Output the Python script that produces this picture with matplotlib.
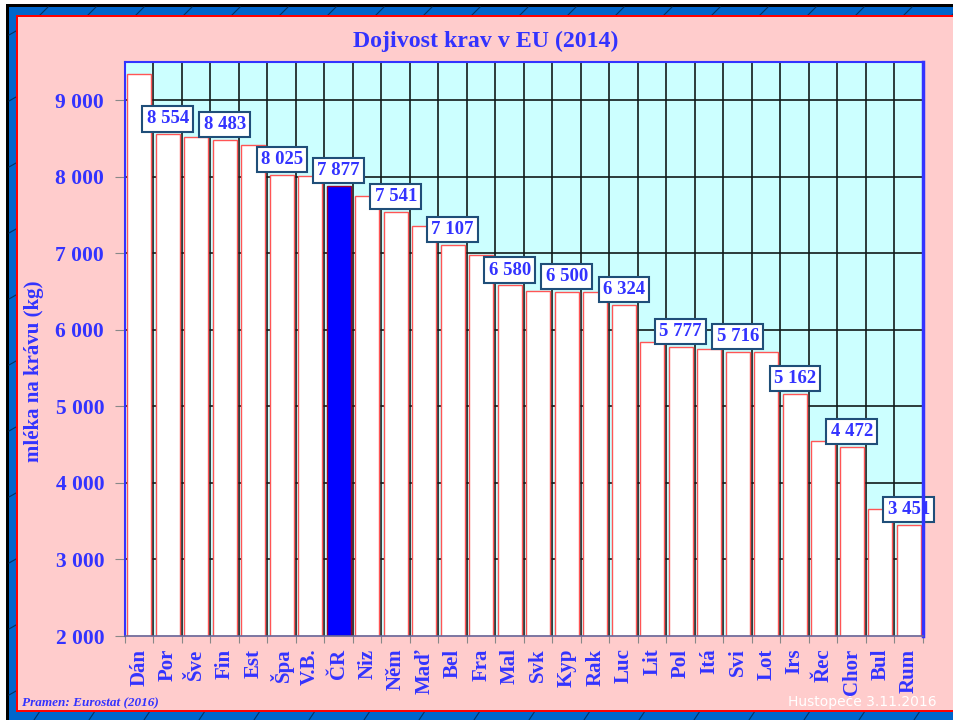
import matplotlib
matplotlib.use("Agg")
import matplotlib.pyplot as plt
from matplotlib.patches import Rectangle
from matplotlib.lines import Line2D
import numpy as np

countries = ["Dán", "Por", "Šve", "Fin", "Est", "Špa", "V.B.", "ČR", "Niz", "Něm",
             "Maď", "Bel", "Fra", "Mal", "Svk", "Kyp", "Rak", "Luc", "Lit", "Pol",
             "Itá", "Svi", "Lot", "Irs", "Řec", "Chor", "Bul", "Rum"]
milk_yield = [9346, 8554, 8519, 8483, 8422, 8025, 8015, 7877, 7752, 7541,
              7359, 7107, 6976, 6580, 6508, 6500, 6495, 6324, 5843, 5777,
              5752, 5716, 5705, 5162, 4545, 4472, 3654, 3451]
highlight = "ČR"
yticks = [2000, 3000, 4000, 5000, 6000, 7000, 8000, 9000]
ytick_labels = ["2 000", "3 000", "4 000", "5 000", "6 000", "7 000", "8 000", "9 000"]

title = "Dojivost krav v EU (2014)"
ylabel = "mléka na krávu (kg)"
source = "Pramen: Eurostat (2016)"
stamp = "Hustopeče 3.11.2016"

BLUE_TXT = "#3333FF"
W, H = 954, 720
fig = plt.figure(figsize=(W / 100, H / 100), dpi=100)
fig.patch.set_facecolor("white")

def frect(x0, y0, x1, y1, color, z=0):
    # pixel coords (top-left origin)
    fig.patches.append(Rectangle((x0 / W, 1 - y1 / H), (x1 - x0) / W, (y1 - y0) / H,
                                 transform=fig.transFigure, facecolor=color,
                                 edgecolor="none", zorder=z))

def fline(x0, y0, x1, y1, color, lw, z=1):
    fig.lines.append(Line2D([x0 / W, x1 / W], [1 - y0 / H, 1 - y1 / H],
                            transform=fig.transFigure, color=color, lw=lw, zorder=z))

# frame
frect(6, 4, W, H, "black", -10)
frect(9, 7, W, H, "#0066CC", -9)
# decorative diagonal lines in the blue band
for xx in range(40, W, 48):
    fline(xx, 15, xx + 8, 7, "#003366", 0.8, -8)
for xx in range(40, W, 55):
    fline(xx, 711, xx - 6, 720, "#003366", 0.8, -8)
for yy in range(35, H, 66):
    fline(9, yy, 16, yy - 4, "#003366", 0.8, -8)
frect(16, 15, W, 712, "red", -7)
frect(18, 17, W, 710, "#FFCCCC", -6)

ax = fig.add_axes([125 / W, 1 - 636 / H, (923 - 125) / W, (636 - 62) / H])
ax.set_zorder(5)
ax.set_facecolor("#CCFFFF")
n = len(countries)
x = np.arange(n)
ax.set_xlim(-0.5, n - 0.5)
ax.set_ylim(2000, 9500)

# grid
for b in np.arange(-0.5, n, 1.0)[1:-1]:
    ax.axvline(b, color="#111a1a", lw=1.2, zorder=1)
for yv in yticks[1:]:
    ax.axhline(yv, color="#111a1a", lw=1.2, zorder=1)

colors = ["#0000FF" if c == highlight else "white" for c in countries]
edges = ["#990033" if c == highlight else "#FF5555" for c in countries]
ax.bar(x, [v - 2000 for v in milk_yield], bottom=2000, width=0.84, color=colors,
       edgecolor=edges, linewidth=1.0, zorder=2)

serif = ["Liberation Serif", "DejaVu Serif"]
for i, (c, v) in enumerate(zip(countries, milk_yield)):
    if i % 2 == 1:
        lbl = f"{v:,}".replace(",", " ")
        ax.annotate(lbl, (i, v), xytext=(0, 5), textcoords="offset points",
                    ha="center", va="bottom", fontsize=13.5, fontweight="bold",
                    family=serif, color=BLUE_TXT, zorder=5,
                    bbox=dict(boxstyle="square,pad=0.22", facecolor="white",
                              edgecolor="#1F4E79", linewidth=1.5))

ax.set_xticks(np.arange(-0.5, n, 1.0))
ax.set_xticklabels([])
ax.set_xticks(x, minor=True)
ax.set_xticklabels(countries, minor=True, rotation=90, fontsize=15,
                   fontweight="bold", family=serif, color=BLUE_TXT)
ax.tick_params(axis="x", which="major", direction="out", length=5, color="#888888")
ax.tick_params(axis="x", which="minor", length=0, pad=9)
ax.set_yticks(yticks)
ax.set_yticklabels(ytick_labels, fontsize=15.5, fontweight="bold", family=serif,
                   color=BLUE_TXT)
ax.tick_params(axis="y", direction="out", length=7, color="#888888", pad=8)

for s in ["left", "top"]:
    ax.spines[s].set_color("#3333FF")
    ax.spines[s].set_linewidth(1.5)
ax.spines["right"].set_color("#3333FF")
ax.spines["right"].set_linewidth(2.5)
ax.spines["bottom"].set_color("#666699")
ax.spines["bottom"].set_linewidth(1.2)
for sp in ax.spines.values():
    sp.set_zorder(6)

fig.text(486 / W, 1 - 41 / H, title, ha="center", va="center", fontsize=17.2,
         fontweight="bold", family=serif, color=BLUE_TXT)
fig.text(34 / W, 1 - 371 / H, ylabel, ha="center", va="center", rotation=90,
         fontsize=15, fontweight="bold", family=serif, color=BLUE_TXT)
fig.text(22 / W, 1 - 703 / H, source, ha="left", va="center", fontsize=9.5,
         fontweight="bold", fontstyle="italic", family=serif, color=BLUE_TXT)
fig.text(937 / W, 1 - 702 / H, stamp, ha="right", va="center", fontsize=10,
         family=["DejaVu Sans"], color="white")

fig.savefig("out.png", dpi=100, facecolor=fig.get_facecolor())
